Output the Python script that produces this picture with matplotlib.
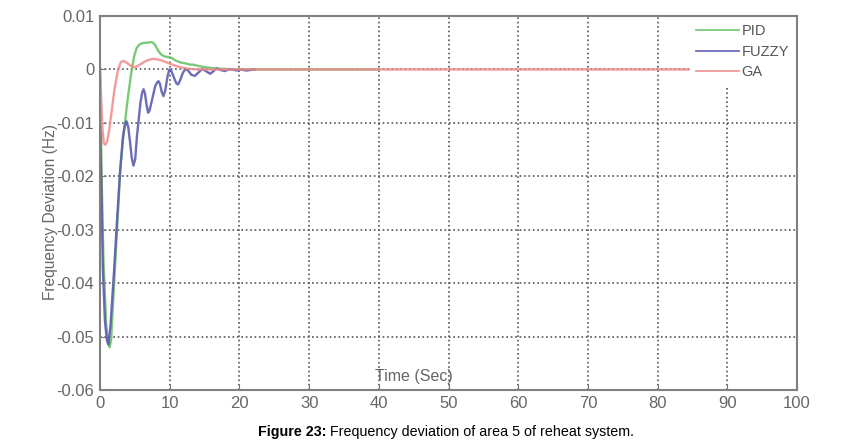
import numpy as np
import matplotlib
matplotlib.use('Agg')
import matplotlib.pyplot as plt

plt.rcParams['font.family'] = ['Liberation Sans', 'DejaVu Sans']

# PID response
pid_t = [0, 0.2, 0.5, 0.9, 1.2, 1.4, 1.6, 1.9, 2.4, 2.9, 3.3, 3.6, 4.0, 4.5, 4.9, 5.25,
         5.6, 6.0, 6.4, 6.8, 7.2, 7.5, 7.9, 8.3, 8.7, 9.0, 9.4, 9.9, 10.4, 10.8,
         11.6, 12.4, 12.9, 13.4, 14.3, 15.2, 16.5, 18.0, 20.0, 40.0]
pid_v = [0, -0.018, -0.036, -0.048, -0.0512, -0.052, -0.0505, -0.043, -0.031, -0.019,
         -0.013, -0.0097, -0.0052, -0.0005, 0.0025, 0.0040, 0.0046, 0.0049, 0.0050,
         0.0050, 0.0051, 0.0051, 0.0046, 0.0036, 0.0029, 0.0026, 0.0024, 0.0023,
         0.0021, 0.0017, 0.0013, 0.0011, 0.0009, 0.0009, 0.0006, 0.0004, 0.0002,
         0.0001, 0.0, 0.0]

# FUZZY response
fuzzy_t = [0, 0.2, 0.4, 0.7, 1.0, 1.2, 1.5, 2.0, 2.5, 2.9, 3.3, 3.6, 3.8, 4.05, 4.3,
           4.55, 4.8, 5.05, 5.3, 5.8, 6.05, 6.25, 6.45, 6.7, 6.9, 7.1, 7.5, 7.9,
           8.2, 8.4, 8.6, 8.85, 9.1, 9.35, 9.7, 9.95, 10.2, 10.6, 10.95, 11.2, 11.5,
           11.9, 12.2, 12.4, 12.7, 13.1, 13.6, 14.1, 14.5, 14.8, 15.3, 15.8, 16.3,
           16.7, 17.3, 17.9, 18.5, 19.0, 19.6, 20.2, 21.0, 22.2]
fuzzy_v = [-0.008, -0.022, -0.037, -0.047, -0.0508, -0.0515, -0.048, -0.038, -0.027,
           -0.0187, -0.0125, -0.0103, -0.0097, -0.0108, -0.0135, -0.0165, -0.018,
           -0.0168, -0.0125, -0.0062, -0.0043, -0.0037, -0.0045, -0.0068, -0.0081,
           -0.0077, -0.0055, -0.0032, -0.0024, -0.0022, -0.0027, -0.0042, -0.0050,
           -0.0040, -0.0012, 0.0, -0.0002, -0.0015, -0.0026, -0.0028, -0.0020,
           -0.0006, 0.0, 0.0, -0.0003, -0.0010, -0.0012, -0.0006, -0.0001, 0.0,
           -0.0004, -0.0008, -0.0003, 0.0002, -0.0001, -0.0003, 0.0, 0.0, -0.0002,
           0.0, -0.0002, 0.0]

# GA response
ga_t = [0, 0.15, 0.35, 0.55, 0.75, 1.0, 1.3, 1.6, 2.1, 2.6, 3.0, 3.4, 3.9, 4.4, 5.0,
        5.6, 6.2, 6.8, 7.6, 8.6, 9.6, 10.6, 11.6, 12.8, 14.0, 16.0, 20.0, 40.0, 84.6]
ga_v = [0, -0.005, -0.011, -0.0138, -0.0141, -0.0136, -0.0115, -0.0085, -0.0035,
        0.0, 0.0014, 0.0016, 0.0012, 0.0007, 0.0004, 0.0008, 0.0013, 0.0017,
        0.0020, 0.0018, 0.0013, 0.0008, 0.0004, 0.0001, 0.0, 0.0, 0.0, 0.0, 0.0]

x_ticks = [0, 10, 20, 30, 40, 50, 60, 70, 80, 90, 100]
y_ticks = [0.01, 0, -0.01, -0.02, -0.03, -0.04, -0.05, -0.06]
y_tick_labels = ['0.01', '0', '-0.01', '-0.02', '-0.03', '-0.04', '-0.05', '-0.06']

fig = plt.figure(figsize=(8.49, 4.43), dpi=100)
ax = fig.add_axes([0.1178, 0.1196, 0.821, 0.8442])

ax.plot(pid_t, pid_v, color='#6cc46c', linewidth=1.7, label='PID', alpha=0.9)
ax.plot(fuzzy_t, fuzzy_v, color='#5c5cb0', linewidth=1.7, label='FUZZY', alpha=0.9)
ax.plot(ga_t, ga_v, color='#f08a8a', linewidth=1.7, label='GA', alpha=0.85)

ax.set_xlim(0, 100)
ax.set_ylim(-0.06, 0.01)
ax.set_xticks(x_ticks)
ax.set_yticks(y_ticks)
ax.set_yticklabels(y_tick_labels)
ax.grid(True, linestyle=':', color='#555555', linewidth=1.2)
ax.tick_params(direction='in', length=4, color='#777777', labelcolor='#666666',
               labelsize=12, pad=4)
for sp in ax.spines.values():
    sp.set_color('#808080')
    sp.set_linewidth(1.5)

ax.text(-0.071, 0.476, 'Frequency Deviation (Hz)', transform=ax.transAxes,
        rotation=90, ha='center', va='center', fontsize=11.2, color='#666666')
ax.text(0.45, 0.035, 'Time (Sec)', transform=ax.transAxes,
        ha='center', va='center', fontsize=11.5, color='#666666')

leg = ax.legend(loc='upper right', bbox_to_anchor=(1, 1), borderaxespad=0.1,
                fontsize=10.5, frameon=True, fancybox=False, framealpha=1,
                edgecolor='white', handlelength=2.9, handletextpad=0.2,
                labelspacing=0.45, borderpad=0.45)
leg.set_zorder(2.2)
for txt in leg.get_texts():
    txt.set_color('#555555')
for ln in leg.get_lines():
    ln.set_linewidth(1.3)

cap = fig.text(0.304, 0.016, 'Figure 23:', fontsize=10.3, fontweight='bold')
ax.annotate(' Frequency deviation of area 5 of reheat system.', xy=(1, 0),
            xycoords=cap, va='bottom', fontsize=10.3, annotation_clip=False)

plt.savefig('out.png', dpi=100)
plt.close()
